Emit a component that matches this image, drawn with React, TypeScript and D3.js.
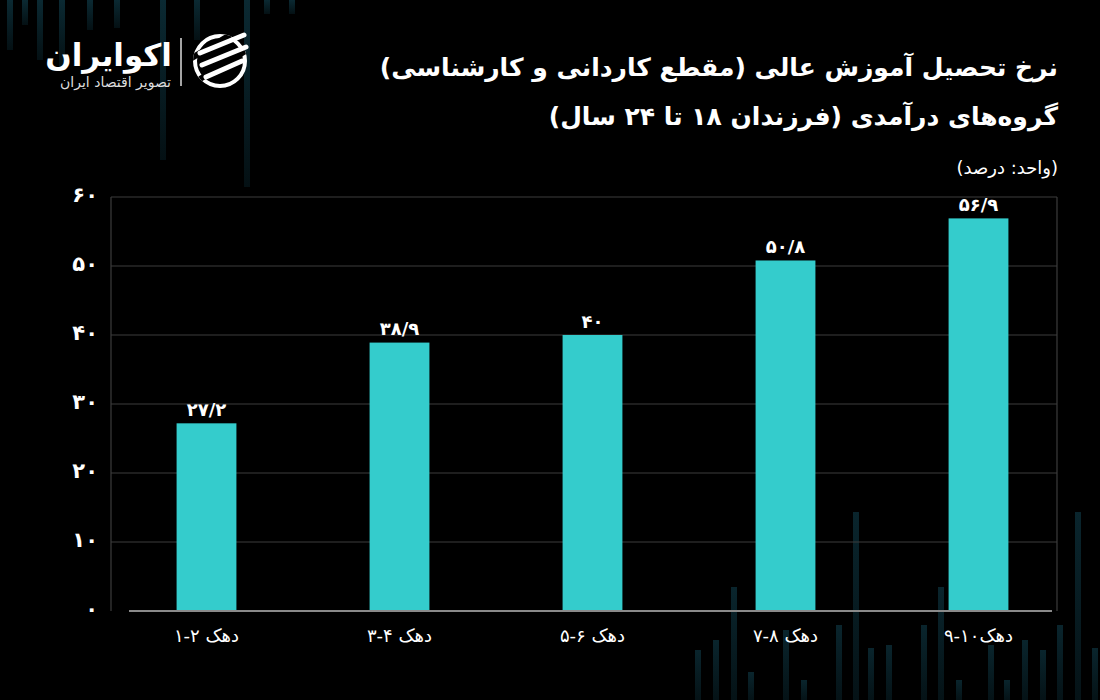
import React from "react";
import * as d3 from "d3";

const categories = ["دهک \u200E۱-۲", "دهک \u200E۳-۴", "دهک \u200E۵-۶", "دهک \u200E۷-۸", "دهک\u200E۹-۱۰"];
const values = [27.2, 38.9, 40, 50.8, 56.9];
const valueLabels = ["۲۷/۲", "۳۸/۹", "۴۰", "۵۰/۸", "۵۶/۹"];
const yTicks = [0, 10, 20, 30, 40, 50, 60];
const yTickLabels = ["۰", "۱۰", "۲۰", "۳۰", "۴۰", "۵۰", "۶۰"];

const titleLine1 = "نرخ تحصیل آموزش عالی (مقطع کاردانی و کارشناسی)";
const titleLine2 = "گروه‌های درآمدی (فرزندان ۱۸ تا ۲۴ سال)";
const unitLabel = "(واحد: درصد)";
const brandName = "اکوایران";
const brandTag = "تصویر اقتصاد ایران";

// decorative background stripes (x position, length / top)
const decoTop = [
  [10, 50], [25, 25], [40, 60], [62, 67], [90, 30], [117, 28], [163, 160], [197, 40], [247, 187], [267, 14], [292, 14],
];
const decoBottom = [
  [698, 650], [716, 640], [734, 587], [751, 672], [786, 630], [804, 680], [839, 625], [856, 512], [871, 648],
  [889, 645], [924, 625], [941, 587], [959, 680], [991, 645], [1007, 680], [1025, 640], [1043, 650], [1060, 625],
  [1078, 512], [1095, 648],
];

const FONT = "'DejaVu Sans', 'Noto Sans', sans-serif";

export default function App() {
  const W = 1100, H = 700;
  const left = 111, right = 1057, top = 197, bottom = 611;
  const y = d3.scaleLinear().domain([0, 60]).range([bottom, top]);
  const x = d3.scaleBand<string>().domain(categories).range([110, 1075]).paddingInner(0.69).paddingOuter(0.345);

  return (
    <svg width={W} height={H} style={{ position: "absolute", left: 0, top: 0, background: "#000" }}>
      <defs>
        <linearGradient id="fadeDown" x1="0" y1="0" x2="0" y2="1">
          <stop offset="0" stopColor="#0c2e38" stopOpacity={0.9} />
          <stop offset="1" stopColor="#0c2e38" stopOpacity={0.35} />
        </linearGradient>
        <linearGradient id="fadeUp" x1="0" y1="0" x2="0" y2="1">
          <stop offset="0" stopColor="#0c2e38" stopOpacity={0.8} />
          <stop offset="1" stopColor="#0c2e38" stopOpacity={0.4} />
        </linearGradient>
      </defs>
      <rect x={0} y={0} width={W} height={H} fill="#000" />
      {decoTop.map(([dx, h], i) => (
        <rect key={"dt" + i} x={dx - 3} y={0} width={6} height={h} fill="url(#fadeDown)" />
      ))}
      {decoBottom.map(([dx, t], i) => (
        <rect key={"db" + i} x={dx - 3} y={t} width={6} height={H - t} fill="url(#fadeUp)" />
      ))}

      {/* Logo */}
      <g>
        <circle cx={220} cy={61} r={25} fill="none" stroke="#fff" strokeWidth={4} />
        <clipPath id="logoClip">
          <circle cx={220} cy={61} r={27} />
        </clipPath>
        <g clipPath="url(#logoClip)" stroke="#000" strokeWidth={6}>
          <line x1={190} y1={59} x2={240} y2={29} />
          <line x1={200} y1={79} x2={252} y2={47} />
        </g>
        <g stroke="#fff" strokeWidth={5} strokeLinecap="round">
          <line x1={200} y1={53} x2={244} y2={35} />
          <line x1={202} y1={65} x2={246} y2={47} />
          <line x1={206} y1={77} x2={242} y2={61} />
        </g>
        <line x1={181} y1={38} x2={181} y2={86} stroke="#ddd" strokeWidth={1.5} />
        <text x={172} y={66} direction="rtl" textAnchor="start" fill="#fff" fontFamily={FONT} fontWeight="bold" fontSize={31}>
          {brandName}
        </text>
        <text x={171} y={87} direction="rtl" textAnchor="start" fill="#ddd" fontFamily={FONT} fontSize={14}>
          {brandTag}
        </text>
      </g>

      {/* Titles */}
      <text x={1058} y={76} direction="rtl" textAnchor="start" fill="#fff" fontFamily={FONT} fontWeight="bold" fontSize={25}>
        {titleLine1}
      </text>
      <text x={1058} y={125} direction="rtl" textAnchor="start" fill="#fff" fontFamily={FONT} fontWeight="bold" fontSize={25}>
        {titleLine2}
      </text>
      <text x={1058} y={174} direction="rtl" textAnchor="start" fill="#fff" fontFamily={FONT} fontSize={18}>
        {unitLabel}
      </text>

      {/* Grid */}
      {yTicks.filter((t) => t > 0).map((t) => (
        <line key={"g" + t} x1={left} x2={right} y1={y(t)} y2={y(t)} stroke="#3c3c3c" strokeWidth={1.2} />
      ))}
      <line x1={left} x2={left} y1={top} y2={bottom} stroke="#3c3c3c" strokeWidth={1.2} />
      <line x1={right} x2={right} y1={top} y2={bottom} stroke="#3c3c3c" strokeWidth={1.2} />

      {/* Y labels */}
      {yTicks.map((t, i) => (
        <text key={"yl" + t} x={98} y={y(t) - 2} textAnchor="end" dominantBaseline="central" fill="#fff" fontFamily={FONT} fontWeight="bold" fontSize={21}>
          {yTickLabels[i]}
        </text>
      ))}

      {/* Bars */}
      {categories.map((c, i) => (
        <rect key={"b" + i} x={x(c)} y={y(values[i])} width={x.bandwidth()} height={y(0) - y(values[i])} fill="#34cccc" />
      ))}
      <line x1={129} x2={1052} y1={bottom} y2={bottom} stroke="#8a8a8a" strokeWidth={2} />

      {/* Value labels */}
      {categories.map((c, i) => (
        <text key={"v" + i} x={(x(c) ?? 0) + x.bandwidth() / 2} y={y(values[i]) - 14} textAnchor="middle" dominantBaseline="central" fill="#fff" fontFamily={FONT} fontWeight="bold" fontSize={18}>
          {valueLabels[i]}
        </text>
      ))}

      {/* X labels */}
      {categories.map((c, i) => (
        <text key={"x" + i} x={(x(c) ?? 0) + x.bandwidth() / 2} y={635} direction="rtl" textAnchor="middle" dominantBaseline="central" fill="#fff" fontFamily={FONT} fontSize={18}>
          {c}
        </text>
      ))}
    </svg>
  );
}
